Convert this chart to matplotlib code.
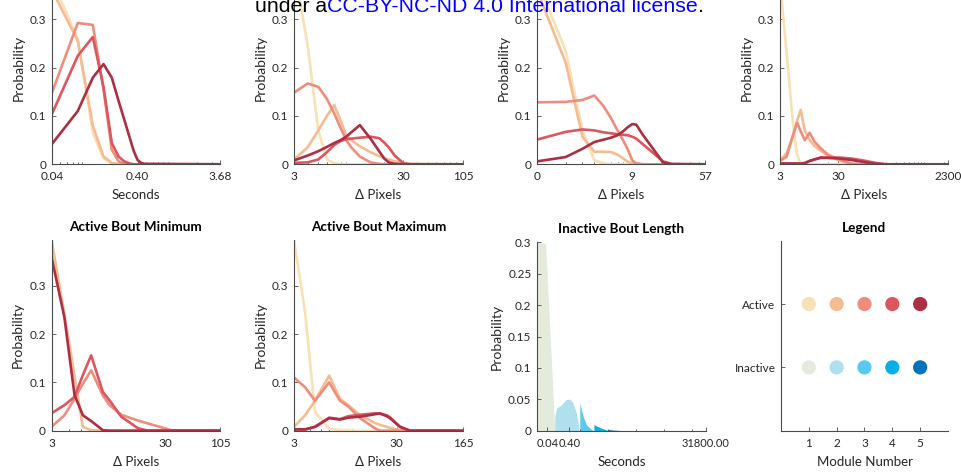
import numpy as np
import matplotlib
matplotlib.use("Agg")
import matplotlib.pyplot as plt
from matplotlib.ticker import FixedLocator, NullLocator, FixedFormatter

plt.rcParams['font.family'] = ['Lato', 'DejaVu Sans']

# ---------------- data ----------------
modules = [1, 2, 3, 4, 5]
active_colors = ['#f7e1b5', '#f5bc91', '#ef8d7c', '#dc565f', '#ad2f45']
inactive_colors = ['#e3ecdc', '#b0dfee', '#56cbef', '#08aee6', '#0072bc']

# Panel 1: active bout length (seconds)
x_len = [0.04, 0.08, 0.12, 0.16, 0.20, 0.24, 0.28, 0.32, 0.36, 0.40, 0.44, 0.48, 3.68]
len_m1 = [0.38, 0.26, 0.065, 0.012, 0.002, 0, 0, 0, 0, 0, 0, 0, 0]
len_m2 = [0.36, 0.255, 0.08, 0.016, 0.003, 0, 0, 0, 0, 0, 0, 0, 0]
len_m3 = [0.148, 0.292, 0.288, 0.155, 0.03, 0.006, 0.001, 0, 0, 0, 0, 0, 0]
len_m4 = [0.104, 0.224, 0.263, 0.16, 0.044, 0.016, 0.006, 0.002, 0, 0, 0, 0, 0]
len_m5 = [0.042, 0.11, 0.179, 0.207, 0.179, 0.131, 0.092, 0.058, 0.028, 0.009, 0.003, 0.001, 0]

# Panel 2: active bout mean (delta pixels)
x_mean = [3, 4, 5, 6, 7, 8, 9, 10, 12, 15, 18, 20, 22, 25, 30, 35, 105]
mean_m1 = [0.41, 0.245, 0.07, 0.01, 0.002, 0, 0, 0, 0, 0, 0, 0, 0, 0, 0, 0, 0]
mean_m2 = [0.01, 0.035, 0.07, 0.1, 0.122, 0.09, 0.06, 0.05, 0.037, 0.025, 0.017, 0.013, 0.01, 0.006, 0.003, 0.001, 0]
mean_m3 = [0.148, 0.167, 0.16, 0.135, 0.105, 0.075, 0.05, 0.035, 0.016, 0.004, 0.001, 0, 0, 0, 0, 0, 0]
mean_m4 = [0.003, 0.004, 0.01, 0.025, 0.04, 0.048, 0.052, 0.053, 0.055, 0.057, 0.054, 0.045, 0.035, 0.018, 0.002, 0, 0]
mean_m5 = [0.008, 0.018, 0.027, 0.036, 0.044, 0.05, 0.057, 0.066, 0.081, 0.053, 0.027, 0.012, 0.004, 0.001, 0, 0, 0]

# Panel 3: active bout variance (delta pixels)
x_var = [0, 1, 2, 3, 4, 5, 6, 7, 8, 9, 10, 12, 15, 20, 25, 57]
var_m1 = [0.38, 0.235, 0.07, 0.008, 0.002, 0, 0, 0, 0, 0, 0, 0, 0, 0, 0, 0]
var_m2 = [0.36, 0.21, 0.057, 0.026, 0.026, 0.025, 0.02, 0.012, 0.005, 0.002, 0, 0, 0, 0, 0, 0]
var_m3 = [0.128, 0.129, 0.133, 0.142, 0.12, 0.095, 0.07, 0.05, 0.03, 0.008, 0.002, 0, 0, 0, 0, 0]
var_m4 = [0.051, 0.067, 0.072, 0.07, 0.066, 0.064, 0.062, 0.061, 0.06, 0.057, 0.053, 0.041, 0.026, 0.006, 0.001, 0]
var_m5 = [0.006, 0.015, 0.032, 0.046, 0.051, 0.055, 0.06, 0.068, 0.077, 0.083, 0.082, 0.06, 0.036, 0.004, 0, 0]

# Panel 4: active bout total (delta pixels)
x_tot = [3, 3.9, 5.0, 5.9, 6.8, 8.0, 9.7, 11.7, 15, 20, 31, 50, 80, 130, 200, 2300]
tot_m1 = [0.375, 0.23, 0.086, 0.02, 0, 0, 0, 0, 0, 0, 0, 0, 0, 0, 0, 0]
tot_m2 = [0.007, 0.023, 0.057, 0.09, 0.112, 0.07, 0.05, 0.038, 0.028, 0.018, 0.008, 0.001, 0, 0, 0, 0]
tot_m3 = [0.007, 0.016, 0.06, 0.086, 0.068, 0.05, 0.065, 0.047, 0.033, 0.02, 0.01, 0.001, 0, 0, 0, 0]
tot_m4 = [0.002, 0.002, 0.002, 0.002, 0.002, 0.003, 0.007, 0.01, 0.013, 0.014, 0.014, 0.012, 0.008, 0.003, 0, 0]
tot_m5 = [0.001, 0.001, 0.001, 0.001, 0.001, 0.002, 0.007, 0.01, 0.014, 0.013, 0.012, 0.009, 0.005, 0.001, 0, 0]

# Panel 5: active bout minimum
x_min = [3, 3.71, 4.43, 5.17, 6.07, 7.67, 8.8, 11.26, 16.2, 20.2, 34.2, 42.9, 105]
min_m2 = [0.395, 0.241, 0.113, 0.008, 0.001, 0, 0, 0, 0, 0, 0, 0, 0]
min_m3 = [0.008, 0.032, 0.066, 0.097, 0.125, 0.073, 0.053, 0.033, 0.021, 0.015, 0.001, 0, 0]
min_m4 = [0.036, 0.053, 0.07, 0.115, 0.156, 0.08, 0.063, 0.029, 0.005, 0, 0, 0, 0]
min_m5 = [0.36, 0.234, 0.074, 0.032, 0.02, 0.001, 0, 0, 0, 0, 0, 0, 0]

# Panel 6: active bout maximum
x_max = [3, 3.67, 4.46, 6.0, 7.64, 9.25, 12.2, 17.5, 19.8, 23.4, 25.4, 32.7, 42.2, 165]
max_m1 = [0.395, 0.246, 0.039, 0.004, 0.001, 0, 0, 0, 0, 0, 0, 0, 0, 0]
max_m2 = [0.008, 0.032, 0.062, 0.114, 0.066, 0.053, 0.032, 0.016, 0.012, 0.008, 0.006, 0.001, 0, 0]
max_m3 = [0.11, 0.09, 0.062, 0.1, 0.062, 0.05, 0.026, 0.005, 0, 0, 0, 0, 0, 0]
max_m4 = [0.001, 0.002, 0.008, 0.027, 0.024, 0.03, 0.033, 0.036, 0.035, 0.032, 0.028, 0.008, 0, 0]
max_m5 = [0.003, 0.003, 0.008, 0.026, 0.023, 0.027, 0.029, 0.034, 0.036, 0.03, 0.026, 0.008, 0, 0]

# Panel 7: inactive bout length (seconds), one area per module
inact_x1 = [0, 0.031, 0.10]
inact_y1 = [0.30, 0.298, 0]
inact_x2 = [0.099, 0.118, 0.193, 0.306, 0.416, 0.522, 0.739, 0.908]
inact_y2 = [0.022, 0.036, 0.041, 0.05, 0.05, 0.046, 0.028, 0.004]
inact_x3 = [0.98, 1.31, 1.72, 2.62, 3.0]
inact_y3 = [0.044, 0.022, 0.009, 0.002, 0]
inact_x4 = [3.19, 3.9, 5.25, 7.95, 10.5]
inact_y4 = [0.01, 0.0075, 0.005, 0.002, 0]
inact_x5 = [10.6, 15, 25, 40]
inact_y5 = [0.002, 0.001, 0.0005, 0]

# ---------------- figure ----------------
W, H = 962, 472
fig = plt.figure(figsize=(W / 100, H / 100), dpi=100)

TXT = '#262626'
SPINE = '#4a4a4a'
LW = 1.9


def make_ax(left_px, right_px, bottom_px, top_px):
    ax = fig.add_axes([left_px / W, 1 - bottom_px / H,
                       (right_px - left_px) / W, (bottom_px - top_px) / H])
    for s in ['top', 'right']:
        ax.spines[s].set_visible(False)
    for s in ['left', 'bottom']:
        ax.spines[s].set_color(SPINE)
        ax.spines[s].set_linewidth(0.8)
    ax.tick_params(which='both', direction='in', colors=SPINE, labelcolor=TXT,
                   labelsize=8.5, width=0.6)
    ax.tick_params(which='major', length=3, pad=4)
    ax.tick_params(axis='x', which='major', pad=5)
    ax.tick_params(which='minor', length=1.5)
    return ax


def fscale(ax, off):
    ax.set_xscale('function', functions=(lambda v: np.log10(np.maximum(np.asarray(v, float) + off, 1e-9)),
                                         lambda u: 10 ** np.asarray(u, float) - off))


def set_xt(ax, ticks, labels):
    ax.xaxis.set_major_locator(FixedLocator(ticks))
    ax.xaxis.set_major_formatter(FixedFormatter(labels))


def set_yt(ax, ticks, labels):
    ax.yaxis.set_major_locator(FixedLocator(ticks))
    ax.yaxis.set_major_formatter(FixedFormatter(labels))
    ax.yaxis.set_minor_locator(NullLocator())


def label(ax, xl):
    ax.set_xlabel(xl, fontsize=9.5, color=TXT, labelpad=5)
    ax.set_ylabel('Probability', fontsize=10, color=TXT, labelpad=4)


def title(ax, s):
    ax.set_title(s, fontsize=9.7, fontweight='bold', color='black', pad=6.5)


ytk = [0, 0.1, 0.2, 0.3]
ytl = ['0', '0.1', '0.2', '0.3']

# ---- top row ----
top_y0 = 164.3
top_scale = 484.0
top_ymax = 0.4

ax1 = make_ax(52, 220, top_y0, top_y0 - top_ymax * top_scale)
for y, c in zip([len_m1, len_m2, len_m3, len_m4, len_m5], active_colors):
    ax1.plot(x_len, y, color=c, lw=LW)
ax1.set_xscale('log')
ax1.set_xlim(0.04, 3.68)
set_xt(ax1, [0.04, 0.40, 3.68], ['0.04', '0.40', '3.68'])
ax1.xaxis.set_minor_formatter(FixedFormatter([]))
ax1.set_ylim(0, top_ymax)
set_yt(ax1, ytk, ytl)
label(ax1, 'Seconds')

ax2 = make_ax(294, 463, top_y0, top_y0 - top_ymax * top_scale)
for y, c in zip([mean_m1, mean_m2, mean_m3, mean_m4, mean_m5], active_colors):
    ax2.plot(x_mean, y, color=c, lw=LW)
ax2.set_xscale('log')
ax2.set_xlim(3, 105)
set_xt(ax2, [3, 30, 105], ['3', '30', '105'])
ax2.xaxis.set_minor_formatter(FixedFormatter([]))
ax2.set_ylim(0, top_ymax)
set_yt(ax2, ytk, ytl)
label(ax2, 'Δ Pixels')

ax3 = make_ax(537, 705, top_y0, top_y0 - top_ymax * top_scale)
for y, c in zip([var_m1, var_m2, var_m3, var_m4, var_m5], active_colors):
    ax3.plot(x_var, y, color=c, lw=LW)
fscale(ax3, 1.0)
ax3.set_xlim(0, 57)
set_xt(ax3, [0, 9, 57], ['0', '9', '57'])
ax3.xaxis.set_minor_locator(FixedLocator([1, 2, 3, 4, 5, 6, 7, 8, 19, 29, 39, 49]))
ax3.set_ylim(0, top_ymax)
set_yt(ax3, ytk, ytl)
label(ax3, 'Δ Pixels')

ax4 = make_ax(780, 948, top_y0, top_y0 - top_ymax * top_scale)
for y, c in zip([tot_m1, tot_m2, tot_m3, tot_m4, tot_m5], active_colors):
    ax4.plot(x_tot, y, color=c, lw=LW)
ax4.set_xscale('log')
ax4.set_xlim(3, 2300)
set_xt(ax4, [3, 30, 2300], ['3', '30', '2300'])
ax4.xaxis.set_minor_formatter(FixedFormatter([]))
ax4.set_ylim(0, top_ymax)
set_yt(ax4, ytk, ytl)
label(ax4, 'Δ Pixels')

# ---- bottom row ----
bot_y0 = 430.7
bot_scale = 483.0

ax5 = make_ax(51.5, 220, bot_y0, bot_y0 - 0.395 * bot_scale)
for y, c in zip([min_m2, min_m3, min_m4, min_m5], active_colors[1:]):
    ax5.plot(x_min, y, color=c, lw=LW)
fscale(ax5, -1.0)
ax5.set_xlim(3, 105)
set_xt(ax5, [3, 30, 105], ['3', '30', '105'])
ax5.xaxis.set_minor_locator(FixedLocator([4, 5, 6, 7, 8, 9, 10, 20]))
ax5.set_ylim(0, 0.395)
set_yt(ax5, ytk, ytl)
label(ax5, 'Δ Pixels')
title(ax5, 'Active Bout Minimum')

ax6 = make_ax(294, 463, bot_y0, bot_y0 - 0.395 * bot_scale)
for y, c in zip([max_m1, max_m2, max_m3, max_m4, max_m5], active_colors):
    ax6.plot(x_max, y, color=c, lw=LW)
fscale(ax6, -1.0)
ax6.set_xlim(3, 165)
set_xt(ax6, [3, 30, 165], ['3', '30', '165'])
ax6.xaxis.set_minor_locator(FixedLocator([4, 5, 6, 7, 8, 9, 10, 20]))
ax6.set_ylim(0, 0.395)
set_yt(ax6, ytk, ytl)
label(ax6, 'Δ Pixels')
title(ax6, 'Active Bout Maximum')

ax7 = make_ax(537, 706, bot_y0, bot_y0 - 0.3 * 628.0)
inact = [(inact_x1, inact_y1), (inact_x2, inact_y2), (inact_x3, inact_y3),
         (inact_x4, inact_y4), (inact_x5, inact_y5)]
for (xs, ys), c in zip(inact, inactive_colors):
    xx = [xs[0]] + list(xs)
    yy = [0] + list(ys)
    ax7.fill_between(xx, yy, 0, color=c, lw=0)
fscale(ax7, 0.03)
ax7.set_xlim(0, 31800)
set_xt(ax7, [0.04, 0.40, 31800], ['0.04', '0.40', '31800.00'])
ax7.tick_params(axis='x', which='major', labelsize=8)
ax7.xaxis.set_minor_locator(FixedLocator([1, 10, 100, 1000, 10000]))
ax7.set_ylim(0, 0.3)
set_yt(ax7, [0, 0.05, 0.1, 0.15, 0.2, 0.25, 0.3],
       ['0', '0.05', '0.1', '0.15', '0.2', '0.25', '0.3'])
label(ax7, 'Seconds')
title(ax7, 'Inactive Bout Length')

ax8 = make_ax(781, 948, bot_y0, bot_y0 - 190)
ax8.scatter(modules, [2] * len(modules), s=105, c=active_colors, edgecolors='none', zorder=3)
ax8.scatter(modules, [1] * len(modules), s=105, c=inactive_colors, edgecolors='none', zorder=3)
ax8.set_xlim(0, 6)
ax8.set_ylim(0, 3)
set_xt(ax8, modules, [str(m) for m in modules])
set_yt(ax8, [1, 2], ['Inactive', 'Active'])
ax8.set_xlabel('Module Number', fontsize=9.5, color=TXT, labelpad=5)
title(ax8, 'Legend')

# ---- watermark line at the top (clipped at the top edge, as in the source) ----
renderer = fig.canvas.get_renderer()
parts = [('under a', 'black'), ('CC-BY-NC-ND 4.0 International license', '#0000ff'), ('.', 'black')]
xpos = 255 / W
ybase = 1 - 11.5 / H
for s, c in parts:
    t = fig.text(xpos, ybase, s, color=c, fontsize=15.3, family=['Liberation Sans', 'DejaVu Sans'],
                 ha='left', va='baseline')
    bb = t.get_window_extent(renderer=renderer)
    xpos = bb.x1 / fig.bbox.width

fig.savefig('out.png', dpi=100)
